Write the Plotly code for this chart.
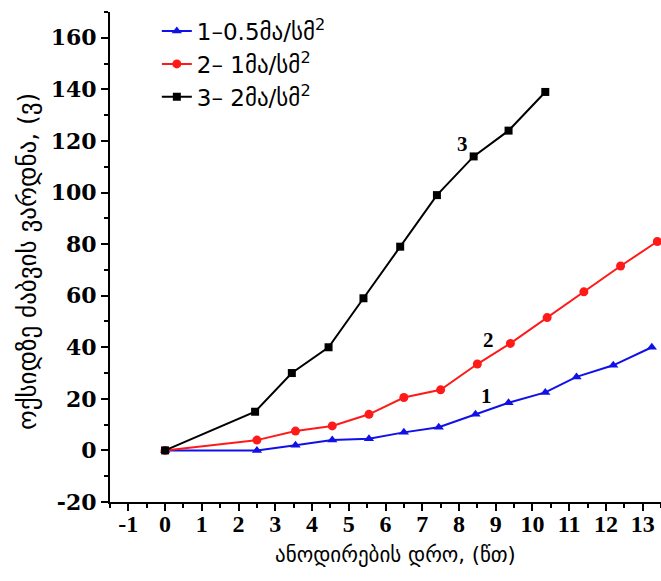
import plotly.graph_objects as go

# ---- data ----
x1 = [0, 2.5, 3.55, 4.55, 5.55, 6.5, 7.45, 8.45, 9.35, 10.35, 11.2, 12.2, 13.25]
y1 = [0, 0, 2, 4, 4.5, 7, 9, 14, 18.5, 22.5, 28.5, 33, 40]

x2 = [0, 2.5, 3.55, 4.55, 5.55, 6.5, 7.5, 8.5, 9.4, 10.4, 11.4, 12.4, 13.4]
y2 = [0, 4, 7.5, 9.5, 14, 20.5, 23.5, 33.5, 41.5, 51.5, 61.5, 71.5, 81]

x3 = [0, 2.45, 3.45, 4.45, 5.4, 6.4, 7.4, 8.4, 9.35, 10.35]
y3 = [0, 15, 30, 40, 59, 79, 99, 114, 124, 139]

names = ["1–0.5მა/სმ<sup>2</sup>", "2– 1მა/სმ<sup>2</sup>", "3– 2მა/სმ<sup>2</sup>"]

x_ticks = [-1, 0, 1, 2, 3, 4, 5, 6, 7, 8, 9, 10, 11, 12, 13]
x_ticktext = ["-1", "0", "1", "2", "3", "4", "5", "6", "7", "8", "9", "10", "11", "12", "13"]
y_ticks = [-20, 0, 20, 40, 60, 80, 100, 120, 140, 160]
y_ticktext = ["-20", "0", "20", "40", "60", "80", "100", "120", "140", "160"]

curve_labels = ["1", "2", "3"]
curve_label_x = [8.75, 8.8, 8.1]
curve_label_y = [21, 43, 119]

x_title = "ანოდირების დრო, (წთ)"
y_title = "ოქსიდზე ძაბვის ვარდნა, (ვ)"

BLUE = "#1010e8"
RED = "#ff1a1a"
BLACK = "#000000"

fig = go.Figure()
fig.add_trace(go.Scatter(x=x1, y=y1, mode="lines+markers", name=names[0],
                         line=dict(color=BLUE, width=2),
                         marker=dict(symbol="triangle-up", size=9, color=BLUE)))
fig.add_trace(go.Scatter(x=x2, y=y2, mode="lines+markers", name=names[1],
                         line=dict(color=RED, width=2),
                         marker=dict(symbol="circle", size=9, color=RED)))
fig.add_trace(go.Scatter(x=x3, y=y3, mode="lines+markers", name=names[2],
                         line=dict(color=BLACK, width=2),
                         marker=dict(symbol="square", size=8, color=BLACK)))

for t, xx, yy in zip(curve_labels, curve_label_x, curve_label_y):
    fig.add_annotation(x=xx, y=yy, text=t, showarrow=False,
                       font=dict(family="Liberation Serif", size=21, color="black", weight="bold"))

fig.add_annotation(xref="paper", yref="paper", x=(395 - 110) / 551, y=-(555 - 502) / 490,
                   text=x_title, showarrow=False, xanchor="center", yanchor="middle",
                   font=dict(family="DejaVu Sans", size=21, color="black"))
fig.add_annotation(xref="paper", yref="paper", x=-(110 - 27) / 551, y=(502 - 262) / 490,
                   text=y_title, showarrow=False, textangle=-90, xanchor="center", yanchor="middle",
                   font=dict(family="DejaVu Sans", size=25, color="black"))

fig.update_layout(
    width=661, height=581,
    margin=dict(l=110, r=0, t=12, b=79),
    paper_bgcolor="white", plot_bgcolor="white",
    showlegend=True,
    legend=dict(x=0.085, y=1.005, xanchor="left", yanchor="top",
                bgcolor="rgba(0,0,0,0)",
                font=dict(family="DejaVu Sans", size=23, color="black"),
                tracegroupgap=0),
)
fig.update_xaxes(range=[-1.5, 13.5], tickvals=x_ticks, ticktext=x_ticktext,
                 showgrid=False, zeroline=False, showline=True, linecolor="black", linewidth=2,
                 ticks="outside", ticklen=7, tickwidth=2, tickcolor="black",
                 ticklabelstandoff=-8,
                 minor=dict(dtick=0.5, tick0=0, ticks="outside", ticklen=4, tickwidth=2, tickcolor="black"),
                 tickfont=dict(family="Liberation Serif", size=24, color="black", weight="bold"))
fig.update_yaxes(range=[-20, 170], tickvals=y_ticks, ticktext=y_ticktext,
                 showgrid=False, zeroline=False, showline=True, linecolor="black", linewidth=2,
                 ticks="outside", ticklen=7, tickwidth=2, tickcolor="black",
                 minor=dict(dtick=10, tick0=0, ticks="outside", ticklen=4, tickwidth=2, tickcolor="black"),
                 tickfont=dict(family="DejaVu Serif", size=22, color="black", weight="bold"))

fig.write_html("out.html", config={"displayModeBar": False},
               post_script="document.body.style.margin='0px';document.body.style.overflow='hidden';")
